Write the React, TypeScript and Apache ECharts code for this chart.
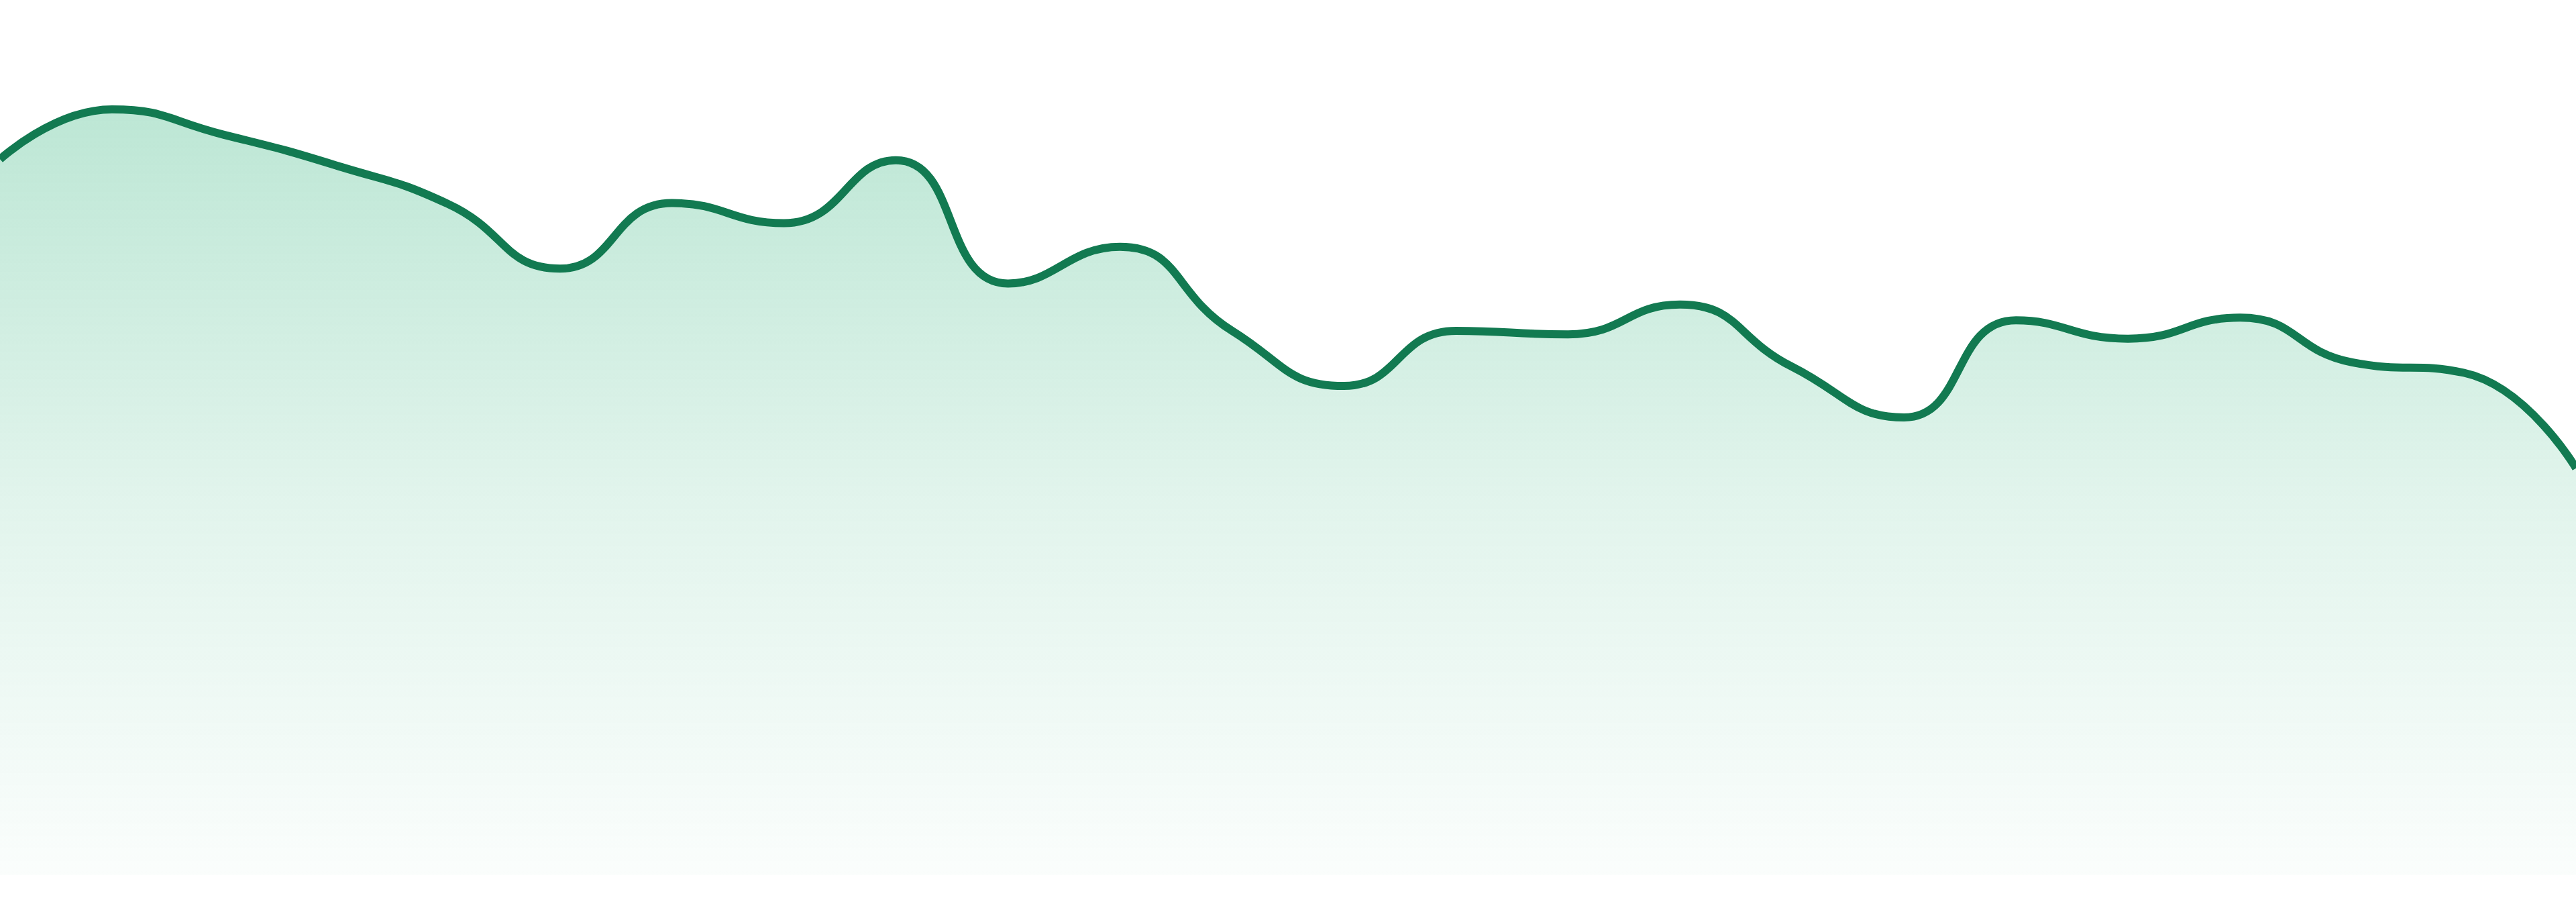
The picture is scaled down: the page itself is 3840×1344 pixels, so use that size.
import * as echarts from 'echarts'
import { useEffect, useRef } from 'react'

// hourly buckets, axis hidden in the picture
const hours = [
  '00:00', '01:00', '02:00', '03:00', '04:00', '05:00', '06:00', '07:00',
  '08:00', '09:00', '10:00', '11:00', '12:00', '13:00', '14:00', '15:00',
  '16:00', '17:00', '18:00', '19:00', '20:00', '21:00', '22:00', '23:00'
]

const values = [
  81.8, 87.5, 84.6, 81.1, 76.7, 69.3, 76.8, 74.5,
  81.7, 67.6, 71.8, 62.2, 55.9, 62.2, 61.8, 65.2,
  58.1, 52.3, 63.4, 61.3, 63.7, 58.6, 57.4, 46.5
]

const yMin = 0
const yMax = 100

export default function App() {
  const chartRef = useRef<HTMLDivElement>(null)

  useEffect(() => {
    if (!chartRef.current) return

    const chart = echarts.init(chartRef.current, undefined, { renderer: 'svg' })

    const option = {
      animation: false,
      grid: {
        left: 0,
        right: 0,
        top: 0,
        bottom: 40
      },
      xAxis: {
        type: 'category',
        boundaryGap: false,
        data: hours,
        show: false
      },
      yAxis: {
        type: 'value',
        min: yMin,
        max: yMax,
        show: false
      },
      series: [
        {
          name: 'Value',
          type: 'line',
          data: values,
          smooth: 0.5,
          showSymbol: false,
          lineStyle: {
            color: '#127a51',
            width: 12
          },
          areaStyle: {
            color: new echarts.graphic.LinearGradient(0, 0, 0, 1, [
              { offset: 0, color: 'rgba(40,176,118,0.44)' },
              { offset: 0.5, color: 'rgba(40,176,118,0.2)' },
              { offset: 1, color: 'rgba(40,176,118,0.03)' }
            ])
          }
        }
      ]
    }

    chart.setOption(option)
    return () => chart.dispose()
  }, [])

  return (
    <div
      ref={chartRef}
      style={{ position: 'fixed', left: 0, top: 0, width: '3840px', height: '1344px' }}
    />
  )
}
